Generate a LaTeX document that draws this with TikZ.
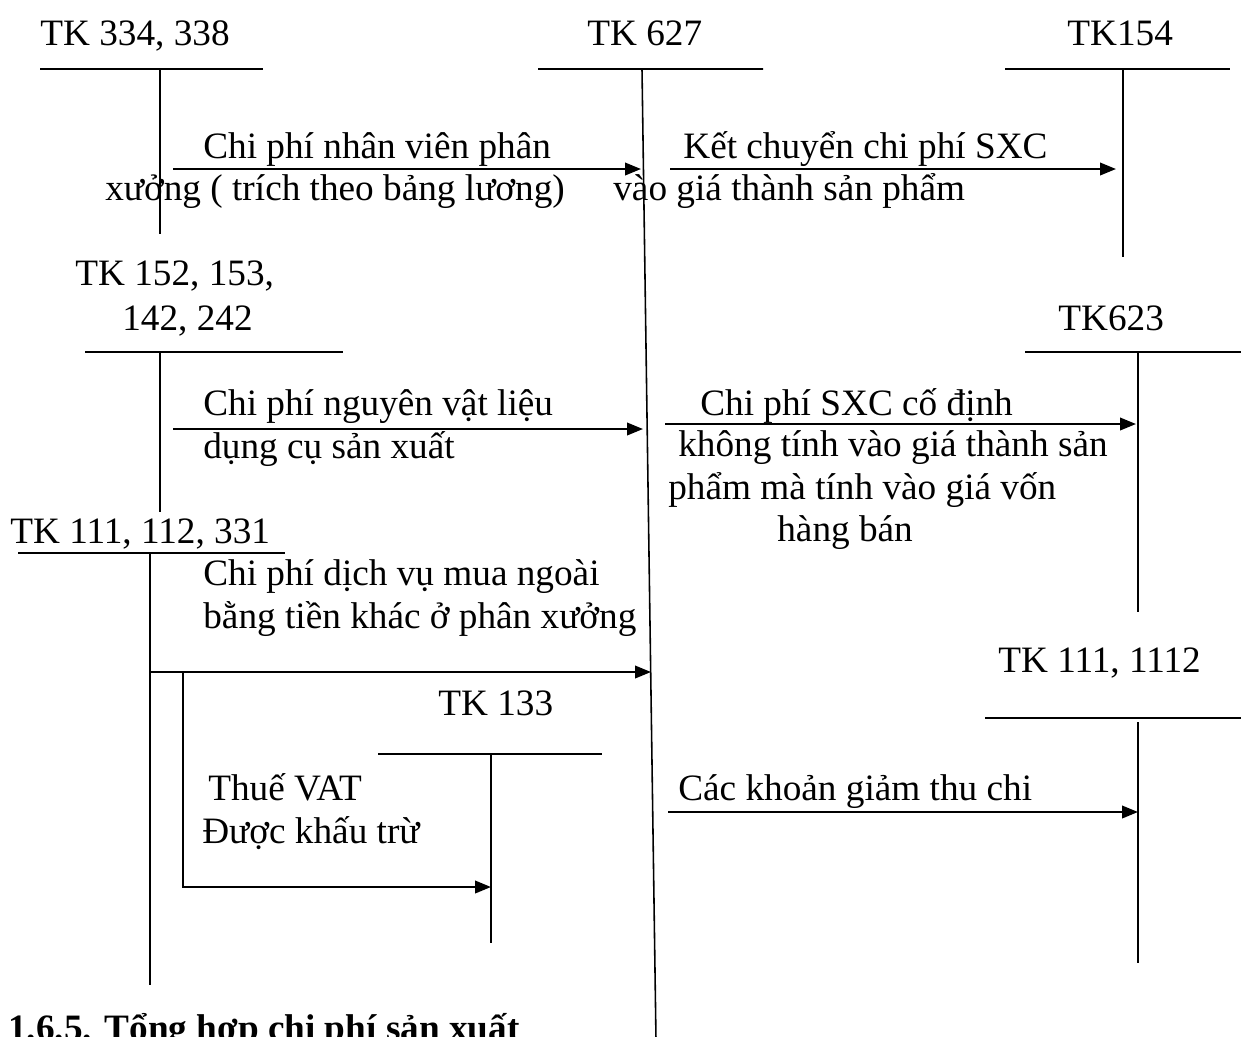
\documentclass[tikz,border=0pt]{standalone}
\usepackage{fontspec}
\setmainfont{Liberation Serif}
\usetikzlibrary{arrows.meta}

\begin{document}
\begin{tikzpicture}[
x=0.02cm, y=-0.02cm,
every node/.style={font=\fontsize{21.2}{25}\selectfont, inner sep=0pt, anchor=base west},
heading/.style={font=\fontsize{21.2}{25}\selectfont\bfseries},
tline/.style={line width=0.9pt},
arrow/.style={-{Triangle[length=0.32cm,width=0.25cm]}, line width=1.3pt}
]
\useasboundingbox (0,0) rectangle (1241,1036);
\clip (0,0) rectangle (1241,1036);

% Account names
\node (n334) at (40,45) {TK 334, 338};
\node (n627) at (587,45) {TK 627};
\node (n154) at (1067,45) {TK154};
\node (n152a) at (75,285) {TK 152, 153,};
\node (n152b) at (122,330) {142, 242};
\node (n623) at (1058,330) {TK623};
\node (n111) at (10,543) {TK 111, 112, 331};
\node (n1112) at (998,672) {TK 111, 1112};
\node (n133) at (438,715) {TK 133};

% T accounts
\coordinate (t334) at (160,69);
\coordinate (t627) at (642,69);
\coordinate (t154) at (1123,69);
\coordinate (t152) at (160,352);
\coordinate (t623) at (1138,352);
\coordinate (t111) at (150,553);
\coordinate (t133) at (491,754);
\coordinate (t1112) at (1138,718);

\draw[tline] (40,69) -- (263,69) (t334) -- (160,234);
\draw[tline] (538,69) -- (763,69) (t627) -- (656,1040);
\draw[tline] (1005,69) -- (1230,69) (t154) -- (1123,257);
\draw[tline] (85,352) -- (343,352) (t152) -- (160,512);
\draw[tline] (1025,352) -- (1241,352) (t623) -- (1138,612);
\draw[tline] (18,553) -- (285,553) (t111) -- (150,985);
\draw[tline] (378,754) -- (602,754) (t133) -- (491,943);
\draw[tline] (985,718) -- (1241,718) (1138,722) -- (1138,963);

% Entries
\node (e1a) at (203,158) {Chi phí nhân viên phân};
\node (e1b) at (105,200) {xưởng ( trích theo bảng lương)};
\node (e2a) at (683,158) {Kết chuyển chi phí SXC};
\node (e2b) at (613,200) {vào giá thành sản phẩm};
\node (e3a) at (203,415) {Chi phí nguyên vật liệu};
\node (e3b) at (203,458) {dụng cụ sản xuất};
\node (e4a) at (700,415) {Chi phí SXC cố định};
\node (e4b) at (678,456) {không tính vào giá thành sản};
\node (e4c) at (668,499) {phẩm mà tính vào giá vốn};
\node (e4d) at (777,541) {hàng bán};
\node (e5a) at (203,585) {Chi phí dịch vụ mua ngoài};
\node (e5b) at (203,628) {bằng tiền khác ở phân xưởng};
\node (e6a) at (208,800) {Thuế VAT};
\node (e6b) at (202,843) {Được khấu trừ};
\node (e7a) at (678,800) {Các khoản giảm thu chi};

\node[heading] (title) at (8,1040) {1.6.5. Tổng hợp chi phí sản xuất};

% Arrows
\coordinate (a1s) at (173,169);
\coordinate (a1e) at (641,169);
\coordinate (a2s) at (670,169);
\coordinate (a2e) at (1116,169);
\coordinate (a3s) at (173,429);
\coordinate (a3e) at (643,429);
\coordinate (a4s) at (665,424);
\coordinate (a4e) at (1136,424);
\coordinate (a5s) at (150,672);
\coordinate (a5e) at (651,672);
\coordinate (a6s) at (183,672);
\coordinate (a6e) at (491,887);
\coordinate (a7s) at (668,812);
\coordinate (a7e) at (1138,812);

\draw[arrow] (a1s) -- (a1e);
\draw[arrow] (a2s) -- (a2e);
\draw[arrow] (a3s) -- (a3e);
\draw[arrow] (a4s) -- (a4e);
\draw[arrow] (a5s) -- (a5e);
\draw[arrow] (a6s) |- (a6e);
\draw[arrow] (a7s) -- (a7e);

\end{tikzpicture}
\end{document}
